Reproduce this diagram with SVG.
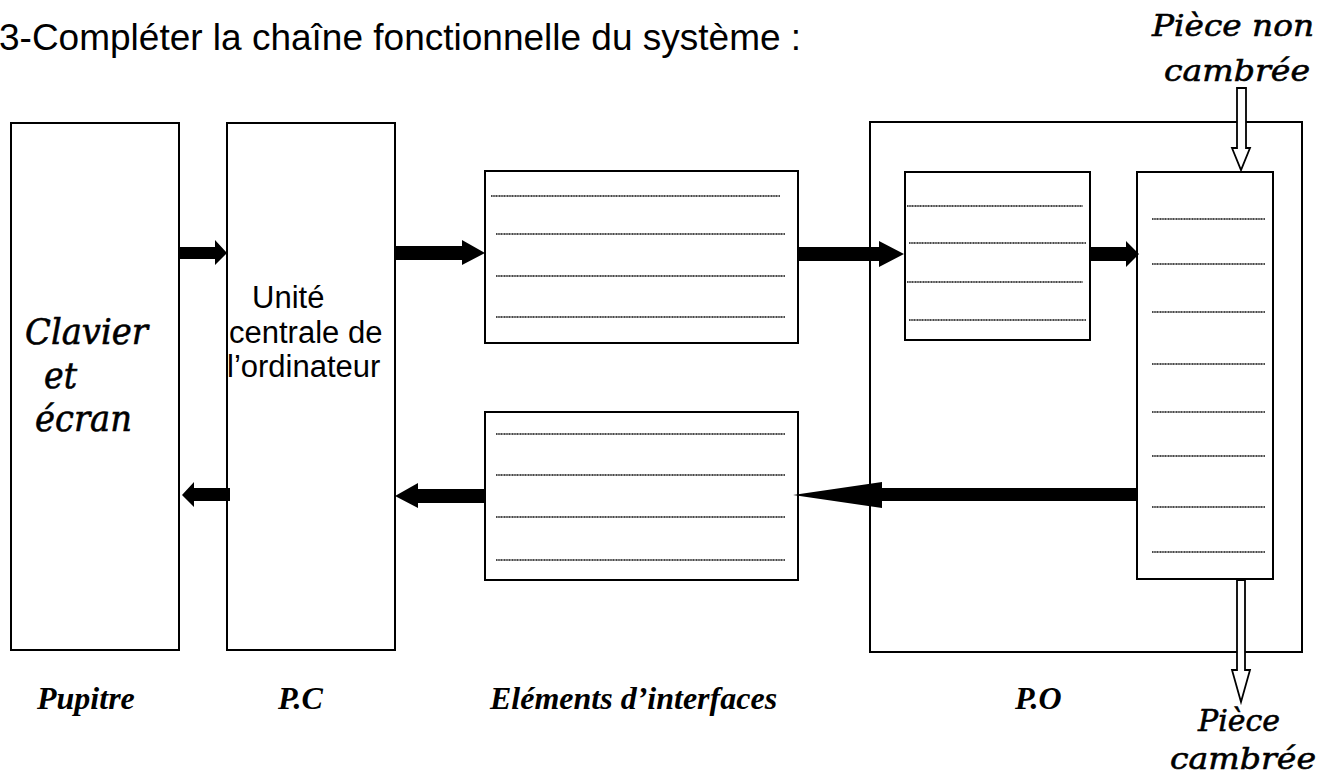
<svg xmlns="http://www.w3.org/2000/svg" width="1320" height="783" viewBox="0 0 1320 783">
<style>
.box{fill:#fff;stroke:#000;stroke-width:2}
.dot{stroke:#111;stroke-width:1.5;stroke-dasharray:1.2 0.4}
.arr{fill:#000;stroke:none}
.hol{fill:#fff;stroke:#000;stroke-width:1.8;stroke-linejoin:miter}
.title{font-family:"Liberation Sans",Arial,sans-serif;font-size:37px}
.pc{font-family:"Liberation Sans",Arial,sans-serif;font-size:31px}
.lbl{font-family:"Liberation Serif","Times New Roman",serif;font-size:32px;font-weight:bold;font-style:italic}
.scr{font-family:"DejaVu Serif",serif;font-style:italic;stroke:#000;stroke-width:0.6}
</style>
<rect width="1320" height="783" fill="#fff"/>
<text class="title" x="-1" y="50">3-Compléter la chaîne fonctionnelle du système :</text>

<g id="pupitre">
<rect class="box" x="11" y="123" width="168" height="527"/>
<text class="scr" font-size="35" x="25" y="344" textLength="123" lengthAdjust="spacingAndGlyphs">Clavier</text>
<text class="scr" font-size="35" x="44" y="388" textLength="33" lengthAdjust="spacingAndGlyphs">et</text>
<text class="scr" font-size="35" x="35" y="431" textLength="97" lengthAdjust="spacingAndGlyphs">écran</text>
</g>

<g id="pc">
<rect class="box" x="227" y="123" width="168" height="527"/>
<text class="pc" x="252" y="308">Unité</text>
<text class="pc" x="229" y="343">centrale de</text>
<text class="pc" x="227" y="377">l’ordinateur</text>
</g>

<g id="interface-top">
<rect class="box" x="485" y="171" width="313" height="172"/>
<line class="dot" x1="491" y1="196" x2="780" y2="196"/>
<line class="dot" x1="496" y1="234" x2="785" y2="234"/>
<line class="dot" x1="496" y1="276" x2="785" y2="276"/>
<line class="dot" x1="496" y1="317" x2="785" y2="317"/>
</g>

<g id="interface-bottom">
<rect class="box" x="485" y="412" width="313" height="168"/>
<line class="dot" x1="496" y1="434" x2="785" y2="434"/>
<line class="dot" x1="496" y1="475" x2="785" y2="475"/>
<line class="dot" x1="496" y1="517" x2="785" y2="517"/>
<line class="dot" x1="496" y1="560" x2="785" y2="560"/>
</g>

<g id="po">
<rect class="box" x="870" y="122" width="432" height="530"/>
</g>

<g id="po-box1">
<rect class="box" x="905" y="172" width="185" height="168"/>
<line class="dot" x1="907" y1="206" x2="1083" y2="206"/>
<line class="dot" x1="909" y1="243" x2="1086" y2="243"/>
<line class="dot" x1="907" y1="282" x2="1083" y2="282"/>
<line class="dot" x1="909" y1="320" x2="1086" y2="320"/>
</g>

<g id="po-box2">
<rect class="box" x="1137" y="172" width="136" height="407"/>
<line class="dot" x1="1152" y1="219" x2="1265" y2="219"/>
<line class="dot" x1="1152" y1="264" x2="1265" y2="264"/>
<line class="dot" x1="1152" y1="312" x2="1265" y2="312"/>
<line class="dot" x1="1152" y1="364" x2="1265" y2="364"/>
<line class="dot" x1="1152" y1="412" x2="1265" y2="412"/>
<line class="dot" x1="1152" y1="456" x2="1265" y2="456"/>
<line class="dot" x1="1152" y1="507" x2="1265" y2="507"/>
<line class="dot" x1="1152" y1="552" x2="1265" y2="552"/>
</g>

<g id="connectors">
<polygon class="arr" points="179,247 215,247 215,240 227,253 215,265 215,259 179,259"/>
<polygon class="arr" points="395,246 462,246 462,240 485,253 462,265 462,260 395,260"/>
<polygon class="arr" points="799,247 879,247 879,241 904,254 879,267 879,261 799,261"/>
<polygon class="arr" points="1090,247 1126,247 1126,241 1139,254 1126,267 1126,261 1090,261"/>
<polygon class="arr" points="1137,488 882,488 882,482 793,495 882,508 882,501 1137,501"/>
<polygon class="arr" points="485,489 418,489 418,483 395,496 418,508 418,503 485,503"/>
<polygon class="arr" points="230,488 194,488 194,482 182,495 194,507 194,501 230,501"/>
<polygon class="hol" points="1237,88 1246,88 1246,148 1250,148 1241,170 1232,148 1237,148"/>
<polygon class="hol" points="1237,580 1245,580 1245,670 1250,670 1241,702 1232,670 1237,670"/>
</g>

<g id="labels">
<text class="lbl" x="37" y="709">Pupitre</text>
<text class="lbl" x="278" y="709">P.C</text>
<text class="lbl" x="490" y="709">Eléments d’interfaces</text>
<text class="lbl" x="1015" y="709">P.O</text>
<text class="scr" font-size="30" x="1152" y="36" textLength="162" lengthAdjust="spacingAndGlyphs">Pièce non</text>
<text class="scr" font-size="30" x="1164" y="81" textLength="146" lengthAdjust="spacingAndGlyphs">cambrée</text>
<text class="scr" font-size="30" x="1198" y="731" textLength="82" lengthAdjust="spacingAndGlyphs">Pièce</text>
<text class="scr" font-size="30" x="1170" y="769" textLength="146" lengthAdjust="spacingAndGlyphs">cambrée</text>
</g>
</svg>
